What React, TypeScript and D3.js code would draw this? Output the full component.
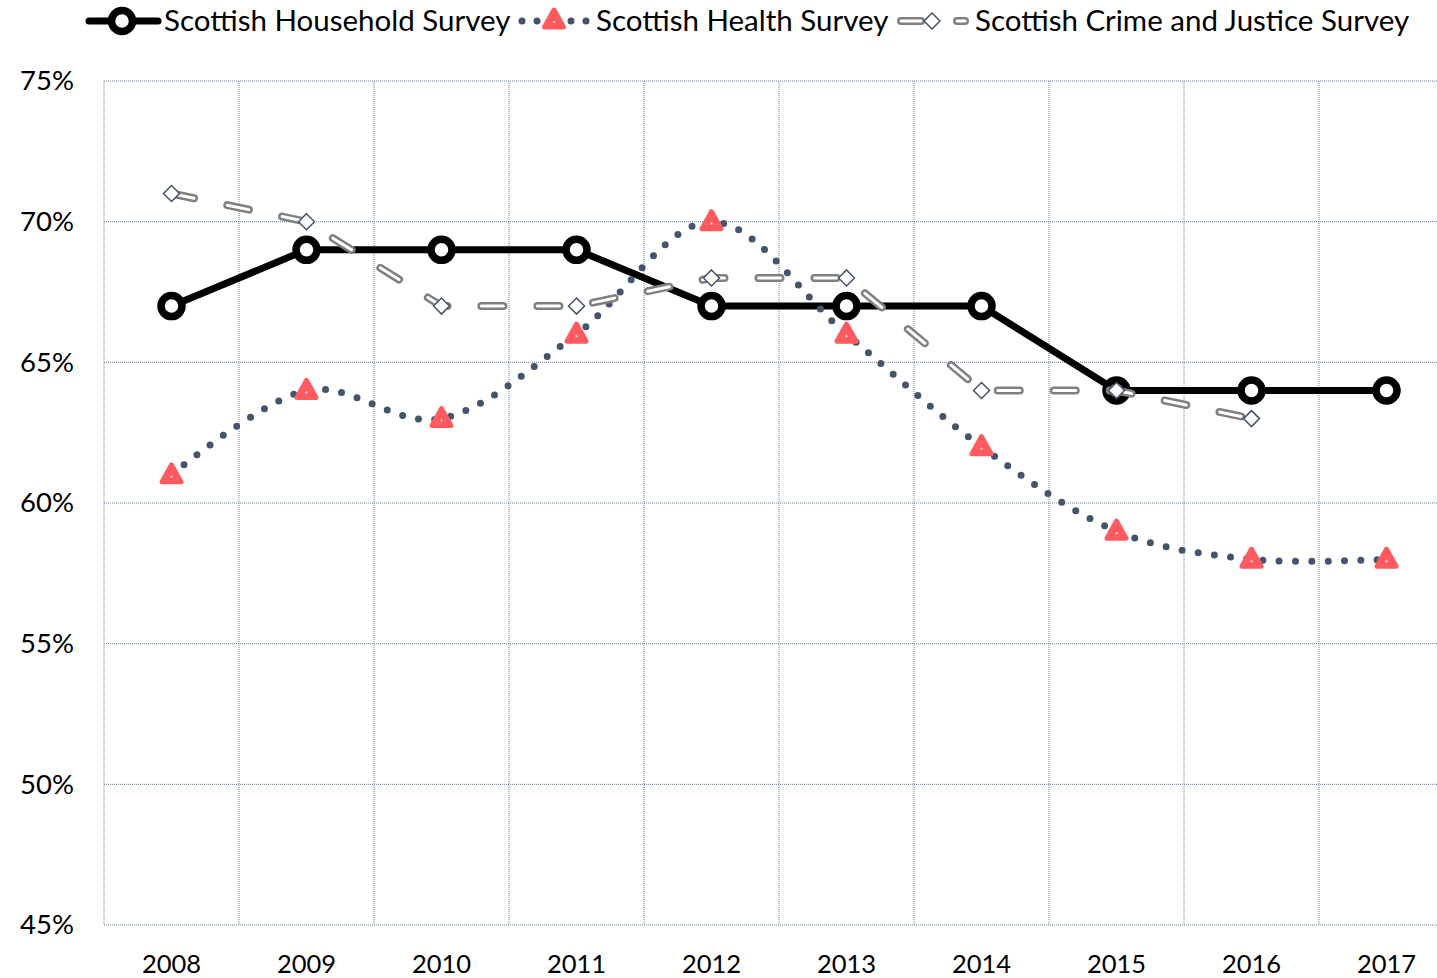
import React from "react";
import * as d3 from "d3";

const years = ["2008", "2009", "2010", "2011", "2012", "2013", "2014", "2015", "2016", "2017"];
const household = [67, 69, 69, 69, 67, 67, 67, 64, 64, 64];
const health = [61, 64, 63, 66, 70, 66, 62, 59, 58, 58];
const crime: (number | null)[] = [71, 70, 67, 67, 68, 68, 64, 64, 63, null];
const yTicks = [45, 50, 55, 60, 65, 70, 75];

const W = 1437;
const H = 978;
const FONT = "Lato, 'Open Sans', sans-serif";
const GRID = "#6f7f99";
const NAVY = "#44546a";
const RED = "#ff5a5f";
const GREY = "#808080";

const x = d3.scaleBand<string>().domain(years).range([104, 1454]);
const cx = (y: string) => (x(y) as number) + x.bandwidth() / 2;
const y = d3.scaleLinear().domain([45, 75]).range([925, 81]);

const straight = d3
  .line<number | null>()
  .defined((d) => d != null)
  .x((_, i) => cx(years[i]))
  .y((d) => y(d as number));

const smooth = d3
  .line<number>()
  .x((_, i) => cx(years[i]))
  .y((d) => y(d))
  .curve(d3.curveCatmullRom.alpha(0));

const triangle = (px: number, py: number) =>
  `M${px},${py - 10} L${px + 9.5},${py + 7} L${px - 9.5},${py + 7} Z`;
const diamond = (px: number, py: number) =>
  `M${px},${py - 8} L${px + 8},${py} L${px},${py + 8} L${px - 8},${py} Z`;

const Tri = ({ px, py }: { px: number; py: number }) => (
  <g>
    <path d={triangle(px, py)} fill={RED} stroke={RED} strokeWidth={5} strokeLinejoin="round" />
    <circle cx={px} cy={py + 2} r={1} fill="#fff" />
  </g>
);

const Ring = ({ px, py }: { px: number; py: number }) => (
  <circle cx={px} cy={py} r={10.5} fill="#fff" stroke="#000" strokeWidth={7.5} />
);

const Dia = ({ px, py }: { px: number; py: number }) => (
  <path d={diamond(px, py)} fill="#fff" stroke={NAVY} strokeWidth={1.5} />
);

export default function App() {
  const crimePath = straight(crime) || "";
  return (
    <svg
      width={W}
      height={H}
      style={{ position: "absolute", left: 0, top: 0, background: "#fff" }}
      fontFamily={FONT}
    >
      {/* grid */}
      {yTicks.map((t) => (
        <line key={"h" + t} x1={104} x2={1454} y1={y(t)} y2={y(t)} stroke={GRID} strokeWidth={1} strokeDasharray="1 1" />
      ))}
      {years.map((yr) => (
        <line key={"v" + yr} x1={x(yr)} x2={x(yr)} y1={81} y2={925} stroke={GRID} strokeWidth={1} strokeDasharray="1 1" />
      ))}

      {/* axis labels */}
      {yTicks.map((t) => (
        <text key={"yl" + t} x={74} y={y(t)} dy="0.34em" textAnchor="end" fontSize={27.5} fill="#000">
          {t}%
        </text>
      ))}
      {years.map((yr) => (
        <text key={"xl" + yr} x={cx(yr)} y={973} textAnchor="middle" fontSize={25.5} fill="#000">
          {yr}
        </text>
      ))}

      {/* Scottish Household Survey */}
      <path d={straight(household) || ""} fill="none" stroke="#000" strokeWidth={7} strokeLinejoin="round" />
      {household.map((v, i) => (
        <Ring key={"hh" + i} px={cx(years[i])} py={y(v)} />
      ))}

      {/* Scottish Health Survey */}
      <path d={smooth(health) || ""} fill="none" stroke={NAVY} strokeWidth={7} strokeLinecap="round" strokeDasharray="0 16.3" />
      {health.map((v, i) => (
        <Tri key={"hs" + i} px={cx(years[i])} py={y(v)} />
      ))}

      {/* Scottish Crime and Justice Survey */}
      <path d={crimePath} fill="none" stroke={GREY} strokeWidth={8} strokeLinecap="round" strokeDasharray="22 34" strokeDashoffset={-1} />
      <path d={crimePath} fill="none" stroke="#fff" strokeWidth={3} strokeLinecap="round" strokeDasharray="22 34" strokeDashoffset={-1} />
      {crime.map((v, i) =>
        v == null ? null : <Dia key={"cj" + i} px={cx(years[i])} py={y(v)} />
      )}

      {/* legend */}
      <g>
        <line x1={89} x2={158} y1={21} y2={21} stroke="#000" strokeWidth={7} strokeLinecap="round" />
        <Ring px={122} py={21} />
        <text x={164} y={21} dy="0.35em" fontSize={29.5} fill="#000">Scottish Household Survey</text>

        {[522, 537, 571, 586].map((d) => (
          <circle key={"ld" + d} cx={d} cy={21} r={3.5} fill={NAVY} />
        ))}
        <Tri px={554} py={20} />
        <text x={596} y={21} dy="0.35em" fontSize={29.5} fill="#000">Scottish Health Survey</text>

        <line x1={901} x2={921} y1={21} y2={21} stroke={GREY} strokeWidth={8} strokeLinecap="round" />
        <line x1={901} x2={921} y1={21} y2={21} stroke="#fff" strokeWidth={3} strokeLinecap="round" />
        <line x1={957} x2={965} y1={21} y2={21} stroke={GREY} strokeWidth={8} strokeLinecap="round" />
        <line x1={957} x2={965} y1={21} y2={21} stroke="#fff" strokeWidth={3} strokeLinecap="round" />
        <Dia px={932} py={21} />
        <text x={975} y={21} dy="0.35em" fontSize={29.5} fill="#000">Scottish Crime and Justice Survey</text>
      </g>
    </svg>
  );
}
